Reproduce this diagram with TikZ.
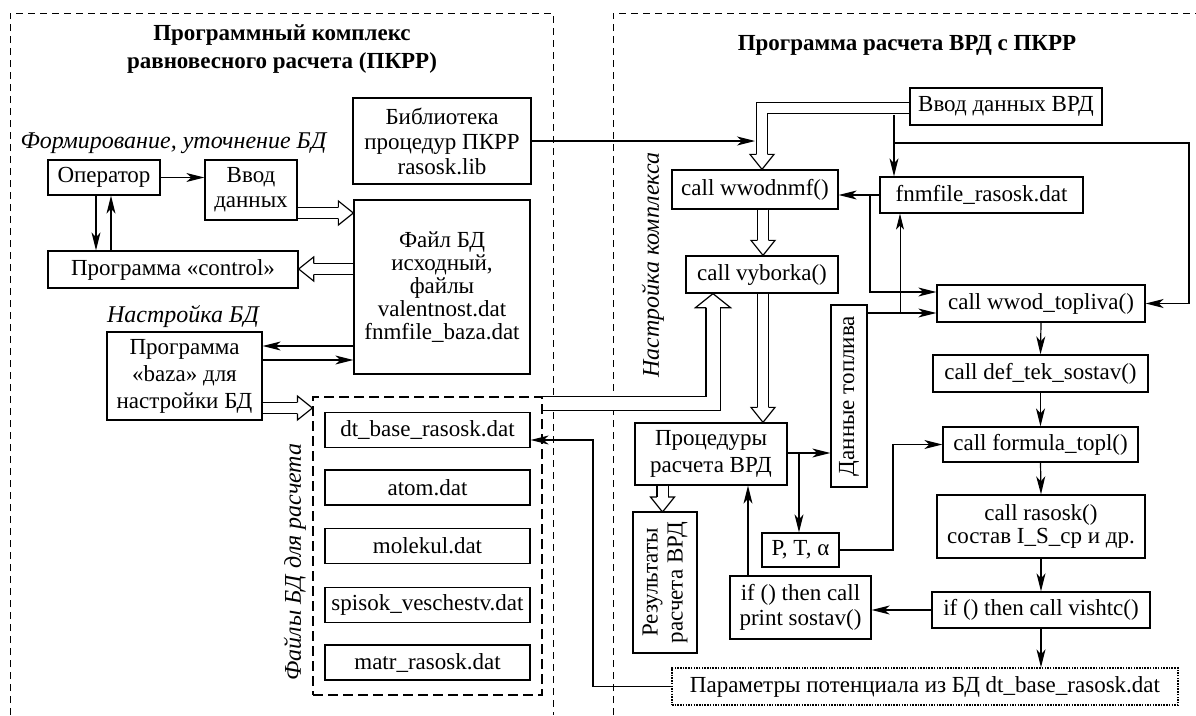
\documentclass[tikz,border=0pt]{standalone}
\usepackage{fontspec}
\setmainfont{Liberation Serif}
\usetikzlibrary{calc,positioning,arrows.meta}

\tikzset{
  txt/.style={font=\fontsize{23}{25}\selectfont},
  box/.style={draw, line width=1.3pt, inner sep=0pt, align=center, txt},
  sz/.style 2 args={minimum width=#1pt, minimum height=#2pt},
  lbl/.style={font=\fontsize{24}{25}\selectfont\itshape, inner sep=0pt},
  ttl/.style={font=\fontsize{23}{28}\selectfont\bfseries, align=center, inner sep=0pt},
  arr/.style={line width=1.2pt, -{Stealth[length=18pt,width=9pt,inset=5pt]}},
  dbl/.style={double, double distance=10pt, line width=1.2pt, line join=miter},
  frame/.style={line width=1pt, dash pattern=on 7pt off 5pt},
  pics/hhead/.style={code={
    \fill[white] (0,0) -- (-15,-12) -- (-15,12) -- cycle;
    \draw[line width=1.2pt, line join=miter] (-15,-5.6) -- (-15,-12) -- (0,0) -- (-15,12) -- (-15,5.6);}},
  pics/hheadbig/.style={code={
    \fill[white] (0,0) -- (-14,-17.5) -- (-14,17.5) -- cycle;
    \draw[line width=1.2pt, line join=miter] (-14,-7.1) -- (-14,-17.5) -- (0,0) -- (-14,17.5) -- (-14,7.1);}},
}

\begin{document}
\begin{tikzpicture}[x=1pt, y=-1pt]
\useasboundingbox (0,0) rectangle (1196,715);
% frames
\draw[frame] (10,715) -- (10,13) -- (553,13) -- (553,715);
\draw[frame] (613,715) -- (613,13) -- (1196,13);
\node[ttl] (t1) at (282,49) {Программный комплекс\\равновесного расчета (ПКРР)};
\node[ttl] (t2) at (907,45) {Программа расчета ВРД с ПКРР};

% left part
\node[lbl] (l1) at (173.5,143) {Формирование, уточнение БД};
\node[box, sz={112}{35}] (op) at (104,177.5) {Оператор};
\node[box, sz={92}{60}] (vvod) at (251,190) {Ввод\\данных};
\node[box, sz={178}{86}] (lib) at (442,141) {Библиотека\\процедур ПКРР\\rasosk.lib};
\node[box, sz={176}{174}, font=\fontsize{23}{23}\selectfont] (fbd) at (442,287) {Файл БД\\исходный,\\файлы\\valentnost.dat\\fnmfile\_baza.dat};
\node[box, sz={250}{37}] (control) at (173,269.5) {Программа «control»};
\node[lbl] (l2) at (183,317) {Настройка БД};
\node[box, sz={155}{88}, font=\fontsize{23}{27}\selectfont] (baza) at (184.5,376) {Программа\\«baza» для\\настройки БД};
\node[draw, sz={229}{298}, line width=1.2pt, dash pattern=on 10pt off 5pt] (fr) at (427.5,546) {};
\node[lbl, rotate=90] (l3) at (295,562) {Файлы БД для расчета};
\foreach \n/\y/\t in {dtb/430/dt\_base\_rasosk.dat, atom/487.5/atom.dat, mol/546/molekul.dat,
  spis/605/spisok\_veschestv.dat, matr/662.5/matr\_rasosk.dat}
  \node[box, sz={205}{35}] (\n) at (427.5,\y) {\t};

% right part
\node[lbl, rotate=90] (l4) at (653,265) {Настройка комплекса};
\node[box, sz={192}{37}] (vvr) at (1006,106.5) {Ввод данных ВРД};
\node[box, sz={203}{36}] (fnm) at (981.5,195) {fnmfile\_rasosk.dat};
\node[box, sz={166}{39}] (wwodnmf) at (755,189.5) {call wwodnmf()};
\node[box, sz={152}{37}] (vyb) at (762,274.5) {call vyborka()};
\node[box, sz={208}{37}] (wtop) at (1041,303.5) {call wwod\_topliva()};
\node[box, sz={215}{37}] (deftek) at (1040.5,373.5) {call def\_tek\_sostav()};
\node[box, sz={195}{35}] (formula) at (1040.5,444.5) {call formula\_topl()};
\node[box, sz={208}{63}, font=\fontsize{23}{23}\selectfont] (rasosk) at (1041,526.5) {call rasosk()\\состав I\_S\_cp и др.};
\node[box, sz={218}{36}] (vishtc) at (1041,610) {if () then call vishtc()};
\node[box, sz={506}{37}, dash pattern=on 1.5pt off 1.2pt] (param) at (925,686.5) {Параметры потенциала из БД dt\_base\_rasosk.dat};
\node[box, sz={182}{36}, rotate=90] (dtop) at (849,396) {Данные топлива};
\node[box, sz={152}{62}, font=\fontsize{23}{27}\selectfont] (proc) at (711,454) {Процедуры\\расчета ВРД};
\node[box, sz={141}{64}, rotate=90, font=\fontsize{23}{25}\selectfont] (res) at (665,582.5) {Результаты\\расчета ВРД};
\node[box, sz={77}{34}] (pta) at (800.5,550) {P, T, α};
\node[box, sz={141}{63}] (prs) at (800.5,607.5) {if () then call\\print sostav()};

% hollow arrows
\draw[dbl] (vvod.east|-0,213) -- (339,213);
\pic at (fbd.west|-0,213) {hhead};
\draw[dbl] (fbd.west|-0,269) -- (313,269);
\pic[rotate=180] at (control.east|-0,269) {hhead};
\draw[dbl] (baza.east|-0,408) -- (298,408);
\pic at (fr.west|-0,408) {hhead};
\draw[dbl] (vvr.west|-0,108) -- (762,108) -- (762,155);
\pic[rotate=-90] at (762,0|-wwodnmf.north) {hhead};
\draw[dbl] (763,0|-wwodnmf.south) -- (763,241);
\pic[rotate=-90] at (763,0|-vyb.north) {hhead};
\draw[dbl] (763,0|-vyb.south) -- (763,408);
\pic[rotate=-90] at (763,0|-proc.north) {hhead};
\draw[dbl, double distance=13pt] (fr.east|-0,403.5) -- (713,403.5) -- (713,307);
\pic[rotate=90] at (713,0|-vyb.south) {hheadbig};
\draw[dbl] (662.5,0|-proc.south) -- (662.5,497);
\pic[rotate=-90] at (662.5,512) {hhead};

% arrows, left part
\draw[arr] (op.east) -- (vvod.west|-op.east);
\draw[arr] (96,0|-op.south) -- (96,0|-control.north);
\draw[arr] (111,0|-control.north) -- (111,0|-op.south);
\draw[arr] (fbd.west|-0,346) -- (baza.east|-0,346);
\draw[arr] (baza.east|-0,360) -- (fbd.west|-0,360);
\draw[arr] (lib.east) -- (lib.east-|755,0);

% arrows, right part
\draw[arr] (894,115) -- (894,0|-fnm.north);
\draw[arr] (894,143) -- (1189,143) -- (1189,0|-wtop.east) -- (wtop.east);
\draw[arr] (fnm.west) -- (wwodnmf.east|-fnm.west);
\draw[arr] (870,0|-fnm.west) -- (870,292) -- (wtop.west|-0,292);
\draw[arr] (dtop.south|-0,313) -- (wtop.west|-0,313);
\draw[line width=0.8pt, -{Stealth[length=16pt,width=8pt,inset=4pt]}] (900,313) -- (900,0|-fnm.south);
\draw[arr] (proc.east|-0,453) -- (dtop.north|-0,453);
\draw[arr] (799,453) -- (799,0|-pta.north);
\draw[arr] (pta.east) -- (893,0|-pta.east) -- (893,0|-formula.west) -- (formula.west);
\draw[arr] (748,0|-prs.north) -- (748,0|-proc.south);
\draw[arr] (vishtc.west) -- (prs.east|-vishtc.west);
\foreach \a/\b in {wtop/deftek, deftek/formula, formula/rasosk, rasosk/vishtc}
  \draw[arr] (\a.south) -- (\b.north);
\draw[arr] (vishtc.south) -- (vishtc.south|-param.north);
\draw[arr, {Stealth[length=18pt,width=9pt,inset=5pt]}-] (dtb.east|-0,440) -- (593,440) -- (593,0|-param.west) -- (param.west);
\end{tikzpicture}
\end{document}
